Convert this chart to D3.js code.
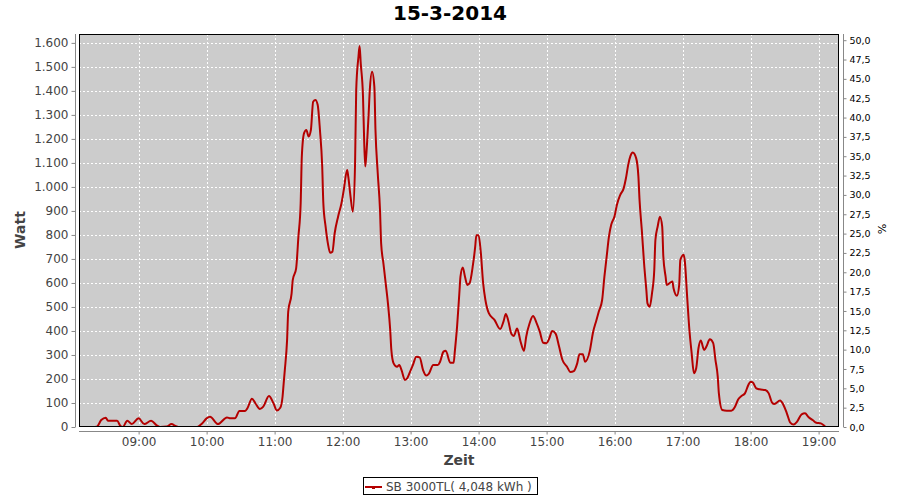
<!DOCTYPE html>
<html>
<head>
<meta charset="utf-8">
<script src="https://cdn.jsdelivr.net/npm/d3@7"></script>
<style>
  html, body { margin: 0; padding: 0; background: #ffffff; }
  svg { display: block; font-family: "DejaVu Sans", sans-serif; }
</style>
</head>
<body>
<svg id="chart" width="900" height="500"></svg>
<script>
const title = "15-3-2014";
const seriesName = "SB 3000TL( 4,048 kWh )";
const yLabel = "Watt";
const y2Label = "%";
const xLabel = "Zeit";

const times = ["08:19","08:23","08:27","08:31","08:33","08:41","08:44","08:46","08:50","08:54",
"09:00","09:05","09:11","09:16","09:19","09:25","09:29","09:33","09:35","09:51","09:56",
"10:00","10:03","10:10","10:18","10:21","10:25","10:29","10:34","10:36","10:40","10:43","10:47","10:50","10:55","10:59",
"11:02","11:05","11:07","11:08","11:09","11:11","11:12","11:15","11:16","11:19","11:21","11:23","11:24","11:26","11:28",
"11:30","11:32","11:34","11:36","11:38","11:40","11:42","11:43","11:45","11:47","11:49","11:51","11:53","11:56","11:59",
"12:01","12:04","12:05","12:07","12:09","12:11","12:12","12:14","12:15","12:16","12:18","12:19","12:20","12:21","12:23",
"12:24","12:26","12:28","12:29","12:31","12:33","12:34","12:36","12:38","12:40","12:42","12:43","12:45","12:48","12:50",
"12:52","12:55","12:57","12:59","13:02","13:05","13:08","13:11","13:14","13:16","13:20","13:24","13:26","13:29","13:31",
"13:35","13:38","13:39","13:41","13:43","13:44","13:46","13:48","13:50","13:52","13:55","13:57","13:58",
"14:00","14:02","14:04","14:06","14:09","14:14","14:19","14:22","14:24","14:26","14:29","14:31","14:34","14:37","14:40",
"14:42","14:45","14:48","14:51","14:54","14:57","15:00","15:02","15:05","15:08","15:11","15:14","15:18","15:21","15:24",
"15:27","15:29","15:32","15:34","15:38","15:41","15:44","15:46","15:49","15:51","15:53","15:55","15:57",
"16:00","16:02","16:05","16:08","16:10","16:12","16:14","16:16","16:19","16:21","16:22","16:24","16:26","16:28","16:29",
"16:31","16:33","16:35","16:36","16:38","16:40","16:42","16:43","16:45","16:46","16:49","16:51","16:52","16:55","16:57","16:58",
"17:01","17:02","17:04","17:06","17:08","17:10","17:12","17:14","17:16","17:19","17:21","17:24","17:27","17:29","17:31","17:32",
"17:35","17:39","17:43","17:46","17:49","17:52","17:55","17:58",
"18:00","18:02","18:05","18:08","18:13","18:16","18:19","18:21","18:26","18:29","18:32","18:35","18:38","18:41","18:45",
"18:48","18:51","18:55","18:58","19:02","19:05","19:06"];

const watts = [0,1,29,39,26,26,4,0,26,12,
36,12,26,7,0,2,12,3,0,0,15,
36,43,12,40,36,36,67,67,78,118,99,75,85,129,99,
69,80,126,182,237,362,480,557,612,661,793,932,1126,1224,1237,
1210,1237,1355,1362,1342,1237,1085,932,835,765,726,730,807,876,932,
987,1071,1043,960,897,1099,1404,1543,1587,1515,1376,1196,1085,1140,1307,
1404,1480,1418,1237,1057,904,765,682,599,515,404,321,265,251,258,
237,196,203,224,258,293,290,237,214,221,258,258,272,314,318,
268,268,314,418,557,626,664,626,592,598,675,751,799,
799,724,599,529,474,446,408,440,471,446,387,379,410,356,317,
376,432,462,435,397,351,349,365,400,388,335,279,251,229,233,
265,303,303,272,315,395,446,480,529,626,710,793,842,
879,925,967,994,1036,1092,1129,1143,1120,1043,946,821,682,571,515,
501,557,654,779,835,876,835,710,626,592,601,606,578,547,592,696,
717,689,543,404,307,224,245,328,360,321,335,365,349,279,210,140,
71,68,68,82,115,129,140,175,
189,185,161,157,154,140,101,96,110,92,57,18,10,22,53,
57,42,28,18,15,5,0];

const xTickLabels = ["09:00","10:00","11:00","12:00","13:00","14:00","15:00","16:00","17:00","18:00","19:00"];
const yTicks = [0,100,200,300,400,500,600,700,800,900,1000,1100,1200,1300,1400,1500,1600];
const y2Ticks = [0,2.5,5,7.5,10,12.5,15,17.5,20,22.5,25,27.5,30,32.5,35,37.5,40,42.5,45,47.5,50];

const parseT = d3.timeParse("%H:%M");
const data = times.map((t, i) => ({ t: parseT(t), v: watts[i] }));

const plot = { left: 79, right: 839, top: 34, bottom: 427 };
const svg = d3.select("#chart");

const x = d3.scaleTime()
  .domain([new Date(1900, 0, 1, 8, 7, 24), new Date(1900, 0, 1, 19, 18, 0)])
  .range([plot.left, plot.right]);
const y = d3.scaleLinear().domain([0, 1637]).range([plot.bottom, plot.top]);
const y2 = d3.scaleLinear().domain([0, 50.8]).range([plot.bottom, plot.top]);

const de = d3.formatLocale({ decimal: ",", thousands: ".", grouping: [3], currency: ["", "€"] });
const fmtY = de.format(",d");
const fmtY2 = de.format(".1f");

// plot background
svg.append("rect")
  .attr("x", plot.left).attr("y", plot.top)
  .attr("width", plot.right - plot.left).attr("height", plot.bottom - plot.top)
  .attr("fill", "#cccccc");

// gridlines
const xTicks = xTickLabels.map(parseT);
svg.append("g").selectAll("line").data(xTicks).join("line")
  .attr("x1", d => Math.round(x(d)) + 0.5).attr("x2", d => Math.round(x(d)) + 0.5)
  .attr("y1", plot.top).attr("y2", plot.bottom)
  .attr("stroke", "#ffffff").attr("stroke-width", 1).attr("stroke-dasharray", "2,2");
svg.append("g").selectAll("line").data(yTicks.filter(d => d > 0)).join("line")
  .attr("x1", plot.left).attr("x2", plot.right)
  .attr("y1", d => Math.round(y(d)) + 0.5).attr("y2", d => Math.round(y(d)) + 0.5)
  .attr("stroke", "#ffffff").attr("stroke-width", 1).attr("stroke-dasharray", "2,2");

// clip
svg.append("clipPath").attr("id", "clip").append("rect")
  .attr("x", plot.left).attr("y", plot.top)
  .attr("width", plot.right - plot.left).attr("height", plot.bottom - plot.top);

// series line
const line = d3.line().x(d => x(d.t)).y(d => y(d.v)).curve(d3.curveMonotoneX);
svg.append("path").datum(data)
  .attr("clip-path", "url(#clip)")
  .attr("d", line)
  .attr("fill", "none")
  .attr("stroke", "#b40000")
  .attr("stroke-width", 2)
  .attr("stroke-linejoin", "round");

// plot border
svg.append("rect")
  .attr("x", plot.left + 0.5).attr("y", plot.top + 0.5)
  .attr("width", plot.right - plot.left - 1).attr("height", plot.bottom - plot.top - 1)
  .attr("fill", "none").attr("stroke", "#000000").attr("stroke-width", 1);

// left axis
const gL = svg.append("g").attr("transform", "translate(75.5,0)")
  .call(d3.axisLeft(y).tickValues(yTicks).tickFormat(fmtY).tickSize(4).tickPadding(3));
gL.select(".domain").attr("stroke", "#888888").attr("d", `M-0,${plot.top}V${plot.bottom}`);
gL.selectAll(".tick line").attr("stroke", "#888888");
gL.selectAll(".tick text").attr("fill", "#444444").attr("font-size", 12)
  .attr("font-family", "DejaVu Sans, sans-serif");

// right axis
const gR = svg.append("g").attr("transform", "translate(843.5,0)")
  .call(d3.axisRight(y2).tickValues(y2Ticks).tickFormat(fmtY2).tickSize(3).tickPadding(3));
gR.select(".domain").attr("stroke", "#888888").attr("d", `M0,${plot.top}V${plot.bottom}`);
gR.selectAll(".tick line").attr("stroke", "#888888");
gR.selectAll(".tick text").attr("fill", "#000000").attr("font-size", 9.5)
  .attr("font-family", "DejaVu Sans, sans-serif");

// bottom axis
const gB = svg.append("g").attr("transform", "translate(0,431.5)")
  .call(d3.axisBottom(x).tickValues(xTicks).tickFormat(d3.timeFormat("%H:%M")).tickSize(3).tickPadding(3));
gB.select(".domain").attr("stroke", "#888888").attr("d", `M${plot.left},0H${plot.right}`);
gB.selectAll(".tick line").attr("stroke", "#888888");
gB.selectAll(".tick text").attr("fill", "#444444").attr("font-size", 12)
  .attr("font-family", "DejaVu Sans, sans-serif");

// title
svg.append("text").attr("x", 450).attr("y", 20).attr("text-anchor", "middle")
  .attr("font-size", 20).attr("font-weight", "bold").attr("fill", "#000000").text(title);

// axis labels
svg.append("text").attr("transform", "translate(25,230) rotate(-90)").attr("text-anchor", "middle")
  .attr("font-size", 14).attr("font-weight", "bold").attr("fill", "#444444").text(yLabel);
svg.append("text").attr("x", 459).attr("y", 465).attr("text-anchor", "middle")
  .attr("font-size", 14).attr("font-weight", "bold").attr("fill", "#444444").text(xLabel);
svg.append("text").attr("transform", "translate(878,229) rotate(90)").attr("text-anchor", "middle")
  .attr("font-size", 11).attr("fill", "#000000").text(y2Label);

// legend
const lg = svg.append("g");
lg.append("rect").attr("x", 363.5).attr("y", 477.5).attr("width", 174).attr("height", 17)
  .attr("fill", "#ffffff").attr("stroke", "#000000").attr("stroke-width", 1);
lg.append("line").attr("x1", 365).attr("x2", 382).attr("y1", 487).attr("y2", 487)
  .attr("stroke", "#b40000").attr("stroke-width", 2);
lg.append("rect").attr("x", 372).attr("y", 486).attr("width", 3).attr("height", 3).attr("fill", "#b40000");
lg.append("text").attr("x", 386).attr("y", 491).attr("font-size", 12).attr("fill", "#444444").text(seriesName);
</script>
</body>
</html>
